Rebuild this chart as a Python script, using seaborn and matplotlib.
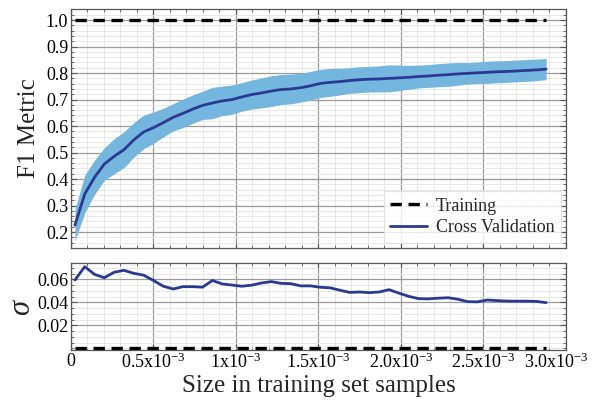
import matplotlib
matplotlib.use("Agg")
import matplotlib.pyplot as plt
import matplotlib.transforms as mtransforms
from matplotlib.ticker import MultipleLocator, FixedLocator, FixedFormatter
import numpy as np
import pandas as pd
import seaborn as sns

# Training-set sizes (axis units of 1e-3)
sizes = [0.024, 0.0835, 0.143, 0.2025, 0.262, 0.3215, 0.381, 0.4405, 0.500, 0.5595,
         0.619, 0.6785, 0.738, 0.7975, 0.857, 0.9165, 0.976, 1.0355, 1.095, 1.1545,
         1.214, 1.2735, 1.333, 1.3925, 1.452, 1.5115, 1.571, 1.6305, 1.690, 1.7495,
         1.809, 1.8685, 1.928, 1.9875, 2.047, 2.1065, 2.166, 2.2255, 2.285, 2.3445,
         2.404, 2.4635, 2.523, 2.5825, 2.642, 2.7015, 2.761, 2.8205, 2.880]

# Mean cross-validation F1 score
cv_mean = [0.226, 0.344, 0.407, 0.457, 0.486, 0.511, 0.548, 0.578, 0.594, 0.613,
           0.633, 0.648, 0.664, 0.678, 0.687, 0.695, 0.700, 0.710, 0.719, 0.725,
           0.732, 0.738, 0.740, 0.745, 0.752, 0.761, 0.765, 0.768, 0.772, 0.775,
           0.777, 0.778, 0.780, 0.782, 0.784, 0.787, 0.789, 0.792, 0.794, 0.797,
           0.799, 0.801, 0.803, 0.805, 0.806, 0.808, 0.810, 0.812, 0.815]

# Standard deviation of the cross-validation F1 score
cv_std = [0.0594, 0.0710, 0.0643, 0.0614, 0.0662, 0.0678, 0.0652, 0.0636, 0.0590, 0.0540,
          0.0516, 0.0536, 0.0536, 0.0532, 0.0590, 0.0560, 0.0550, 0.0540, 0.0549, 0.0568,
          0.0580, 0.0565, 0.0562, 0.0543, 0.0543, 0.0531, 0.0526, 0.0505, 0.0486, 0.0490,
          0.0484, 0.0490, 0.0510, 0.0480, 0.0452, 0.0432, 0.0430, 0.0436, 0.0440, 0.0427,
          0.0406, 0.0404, 0.0420, 0.0415, 0.0411, 0.0410, 0.0410, 0.0408, 0.0397]

# Training score is perfect everywhere, with zero spread
train_mean = [1.0] * len(sizes)
train_std = [0.0] * len(sizes)

x_ticks = [0, 0.5, 1.0, 1.5, 2.0, 2.5, 3.0]
x_tick_labels = ["0",
                 "0.5x10$^{\\mathregular{-3}}$",
                 "1x10$^{\\mathregular{-3}}$",
                 "1.5x10$^{\\mathregular{-3}}$",
                 "2.0x10$^{\\mathregular{-3}}$",
                 "2.5x10$^{\\mathregular{-3}}$",
                 "3.0x10$^{\\mathregular{-3}}$"]

df = pd.DataFrame({"size": sizes, "cv": cv_mean, "cv_std": cv_std,
                   "train": train_mean, "train_std": train_std})
df["lo"] = df["cv"] - df["cv_std"]
df["hi"] = df["cv"] + df["cv_std"]

sns.set_theme(style="whitegrid")
plt.rcParams["font.family"] = ["Liberation Serif", "DejaVu Serif"]
plt.rcParams["mathtext.fontset"] = "custom"
plt.rcParams["mathtext.rm"] = "Liberation Serif"
plt.rcParams["mathtext.it"] = "Liberation Serif:italic"

NAVY = "#2b3990"
BAND = "#74b6de"
MAJOR = "#9a9a9a"
MINOR = "#e3e3e3"

fig = plt.figure(figsize=(5.92, 4.07), dpi=100)
ax1 = fig.add_axes([0.1199, 0.3907, 0.8361, 0.5873])
ax2 = fig.add_axes([0.1199, 0.1400, 0.8361, 0.2138], sharex=ax1)

# Top panel: learning curves
ax1.fill_between(df["size"], df["lo"], df["hi"], color=BAND, lw=0, zorder=2)
sns.lineplot(data=df, x="size", y="train", ax=ax1, color="black", lw=2.4,
             linestyle=(0, (3.4, 2.0)), label="Training", zorder=3)
sns.lineplot(data=df, x="size", y="cv", ax=ax1, color=NAVY, lw=2.0,
             label="Cross Validation", zorder=4)
ax1.set_ylim(0.14, 1.042)
ax1.yaxis.set_major_locator(MultipleLocator(0.1))
ax1.yaxis.set_minor_locator(MultipleLocator(0.02))
ax1.yaxis.set_major_formatter(plt.FormatStrFormatter("%.1f"))
ax1.set_ylabel("F1 Metric", fontsize=18, labelpad=4)
ax1.set_xlabel("")
ax1.tick_params(axis="x", labelbottom=False)

leg = ax1.legend(loc="lower right", fontsize=13, frameon=True, fancybox=False,
                 handlelength=2.0, handletextpad=0.5, borderpad=0.35,
                 labelspacing=0.25, borderaxespad=0.3)
leg.get_frame().set_edgecolor("#dddddd")
leg.get_frame().set_linewidth(0.8)

# Bottom panel: spread of the scores
sns.lineplot(data=df, x="size", y="train_std", ax=ax2, color="black", lw=2.4,
             linestyle=(0, (3.4, 2.0)), zorder=3, legend=False)
sns.lineplot(data=df, x="size", y="cv_std", ax=ax2, color=NAVY, lw=2.0,
             zorder=4, legend=False)
ax2.set_ylim(-0.0015, 0.0742)
ax2.yaxis.set_major_locator(FixedLocator([0.02, 0.04, 0.06]))
ax2.yaxis.set_major_formatter(FixedFormatter(["0.02", "0.04", "0.06"]))
ax2.yaxis.set_minor_locator(MultipleLocator(0.005))
ax2.set_ylabel("$\\sigma$", fontsize=22, labelpad=0)
ax2.set_xlabel("Size in training set samples", fontsize=18, labelpad=2)

ax2.set_xlim(0, 3.0)
ax2.xaxis.set_major_locator(FixedLocator(x_ticks))
ax2.xaxis.set_major_formatter(FixedFormatter(x_tick_labels))
ax2.xaxis.set_minor_locator(MultipleLocator(0.1))

for ax in (ax1, ax2):
    ax.set_facecolor("white")
    ax.grid(which="major", color=MAJOR, lw=0.9, zorder=0)
    ax.grid(which="minor", color=MINOR, lw=0.6, zorder=0)
    ax.set_axisbelow(True)
    for s in ax.spines.values():
        s.set_visible(True)
        s.set_color("#555555")
        s.set_linewidth(0.9)
    ax.tick_params(which="both", direction="in", top=True, right=True,
                   left=True, bottom=True, colors="#555555",
                   labelcolor="black", labelsize=13, pad=2)
    ax.tick_params(which="major", length=4, width=0.8)
    ax.tick_params(which="minor", length=2, width=0.6)

# Keep the last x tick label inside the figure
fig.canvas.draw()
last = ax2.get_xticklabels()[-1]
last.set_transform(last.get_transform() +
                   mtransforms.ScaledTranslation(-10 / 100, 0, fig.dpi_scale_trans))

fig.savefig("out.png", dpi=100, facecolor="white")
